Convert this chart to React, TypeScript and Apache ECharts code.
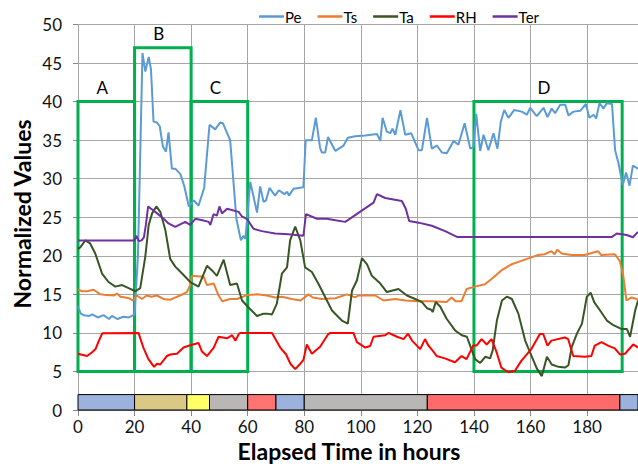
import React, { useEffect, useRef } from "react";
import * as echarts from "echarts";

const peHours = [0,1,2,4,5,7,9,11,12,14,16,18,20,21.2,22.8,23.8,25,25.8,26.7,27.9,28.9,30,31.1,32,33.2,34.4,36.2,37.6,39.2,40.9,42.6,44.6,46.5,48.5,50.3,51.2,53.8,56,57.6,58.5,59.2,60.9,63.3,64.4,65.6,66.5,67.7,69.7,71,73,74,74.6,76.2,79.7,80.5,82.7,84.1,85.6,86.2,87.4,88.4,91,93.9,95.4,98,101.6,105.7,106.9,107.7,109.2,110.4,111.2,112.2,114,115.7,117.8,120.4,121.6,123.4,125.1,126.9,128.7,130.4,132.8,134.5,136.7,138.7,139.8,140.8,142.2,143.4,145.1,146.9,148.3,149.5,150.7,152.2,154.2,156.9,158.7,159.9,162.2,164.6,166,167.5,168.7,170.5,172.3,173.4,175.2,177.6,179.6,180.8,182.3,183.2,184.4,185.8,187,188.8,189.9,191.1,192.6,193.8,195,196.2,198];
const peValues = [13.4,12.5,12.3,12.2,12.4,12.0,12.3,11.8,12.2,11.8,12.1,12.0,12.4,20,46.3,43.9,45.8,44.2,37.4,37.3,36.8,34.2,33.5,36.0,31.3,31.3,30.6,29,26.4,27.2,26.5,28.8,37.0,36.4,37.3,37.2,35.0,24.8,22.0,22.6,22.2,29.6,25.6,29.0,27.0,27.2,28.8,27.8,28.5,28.0,28.3,27.8,28.7,28.9,35.0,35.0,37.9,34.0,33.4,33.4,35.4,33.6,34.3,35.3,35.5,35.6,35.8,34.9,37.9,36.1,35.9,36.5,35.7,38.9,35.7,35.9,33.7,33.7,37.9,33.9,34.3,33.4,33.3,34.9,34.4,37.2,33.9,34.1,38.4,33.6,35.7,33.7,35.9,33.9,37.4,38.9,37.9,38.9,38.7,38.3,39.2,38.1,39.2,38.0,39.1,38.5,39.6,39.6,38.2,38.7,38.8,39.7,37.9,38.3,37.8,39.8,39.1,39.8,39.7,33.7,32.0,29.2,30.8,29.1,31.7,31.3];

const tsHours = [0,1.5,3.2,5.5,7.9,10,12.6,13.8,15,16.7,18,19.5,20.8,22.6,24.3,26,27.9,30.2,32.6,34.5,36.1,38.5,39.7,40.3,43.2,44.4,45.6,48,49.7,51,53.8,56.2,59.7,63.3,66.8,69.7,72.1,75.6,78.7,81.5,83,86.2,91,95.1,98,99.1,102.7,105.1,108,112.2,115.7,120.3,125,130.3,132.1,133.5,135.6,137.4,140.3,143.9,146.2,149.7,153.3,158,162.7,165,167.4,168.5,169.5,171,174.5,179.2,181,183.9,185,189.8,191.6,192.8,193.9,195.7,197.5,198];
const tsValues = [15.6,15.4,15.4,15.6,15.0,14.9,14.85,15.1,14.7,14.6,14.5,14.2,14.85,14.4,14.85,14.7,14.85,14.4,14.3,14.6,14.85,15.3,16.2,17.4,17.3,17.3,16.2,16.4,14.85,14.1,14.4,14.4,14.9,15.0,14.85,14.6,14.7,14.4,14.2,15.0,14.6,14.4,14.5,15.0,14.6,14.85,14.85,14.85,14.2,14.4,14.2,14.1,14.1,14.0,14.6,14.1,14.1,15.7,16.0,16.3,17.0,18.1,18.9,19.5,20.1,20.2,20.6,20.2,20.8,20.3,20.1,20.1,20.3,20.6,20.1,20.2,19.3,17.4,14.2,14.6,14.4,14.3];

const taHours = [0,0.8,2.6,4.3,6.1,8.5,10.8,13.2,15.6,17.9,20.3,22,23.8,25,26.2,27.7,29.1,30.9,32.6,34.4,36.8,39.7,42.6,45.6,47.4,49.1,51.5,53.8,56.2,58,60.3,63.3,65.6,66.8,68.6,70.3,72.1,73.9,75,76.8,78.6,80.3,82.7,85.1,89.8,93.3,95.4,96.9,98.6,100.4,102.2,103.9,106.9,109.2,113.3,116.3,119.2,121.6,123.4,124.9,125.4,126.5,128.1,130.4,133.4,135.7,137.5,139.3,140.4,142.2,144,145.7,146.6,148.1,149.9,151.6,153.4,155.7,158.1,160.5,162.2,164,165.8,167.5,169.9,172.2,173.4,174.6,176.4,178.2,179.9,181.3,182.5,184.6,187,189.3,192.3,194.1,195.2,197,198];
const taValues = [20.9,21.1,22.0,21.6,20.3,17.7,16.6,16.0,16.2,15.8,15.4,15.8,19.9,24.0,25.5,26.4,25.7,23.3,19.6,18.6,17.7,16.6,16.0,18.7,18.1,17.4,19.5,16.2,16.4,14.2,13.3,12.2,12.5,12.5,12.4,13.8,17.7,18.5,22.0,23.8,22.0,18.5,17.9,16.3,12.9,11.6,11.2,15.5,16.8,19.7,18.9,17.4,16.4,15.3,15.7,14.85,14.4,14.0,13.2,13.0,12.7,14.0,13.4,11.8,10.3,9.7,9.5,7.7,6.6,6.1,6.9,6.7,7.7,11.6,14.2,14.7,14.4,12.5,9.0,6.9,5.4,4.4,6.9,5.9,5.6,5.5,5.8,8.2,9.9,11.2,14.7,15.2,14.0,12.9,11.6,11.0,10.5,10.5,9.5,12.9,14.2];

const rhHours = [0,1,3.2,5,6.2,7.4,8.6,21.4,23.1,24.9,26.9,27.9,29.1,31.4,32.6,35,37.3,39.7,42.6,43.8,45.6,48,49.7,52.7,54.5,55.7,56.9,57.5,68.6,71.5,73.6,75.1,76.8,78.6,79.7,80.9,82.7,85.6,88.5,89.2,97.4,98.6,101.6,103.3,104.5,108.6,109.8,112.8,115.1,116.7,118.1,121,122.7,123.8,125.6,126.8,129.7,133.3,135.6,137.4,139.7,140.9,142.7,144.5,146.2,148,149.7,152.1,154.5,156.8,160.3,163.3,164.5,166,167.4,172.1,173.3,175.1,179.2,181.5,182.7,185.1,187.4,189.8,191.6,193.4,196.3,198];
const rhValues = [7.3,7.2,7.0,7.5,7.9,9.0,9.95,10,8.1,6.6,5.6,6.0,5.9,7.0,7.2,7.3,8.1,8.4,8.7,7.6,7.0,8.1,9.5,9.3,9.7,9.0,9.9,10,10,8.1,7.2,6.0,5.3,6.0,6.5,8.5,7.3,8.2,9.85,10,10,8.8,8.1,8.3,9.5,9.7,10,9.5,9.2,9.9,9.0,7.9,9.2,8.4,7.6,7.0,6.7,6.2,7.0,6.6,8.35,8.35,9.2,8.5,9.2,7.5,5.5,4.9,5.1,6.4,7.9,9.85,9.85,8.35,9.0,9.4,9.2,7.0,6.9,7.0,8.35,8.8,8.35,8.0,7.2,7.3,8.5,8.1];

const terHours = [0,20,20.6,21.5,22.5,23.3,24,24.8,27.3,30.3,32,34.4,37.9,39.7,41.5,44,46.2,46.8,47.9,49.1,50,50.9,52.7,56.8,58,59.7,62.1,65,69.7,74.4,79.7,80.6,84.5,88,91,94.5,104.5,105.7,108.6,114.5,115.9,117.1,120.4,125.1,129.8,134,188.8,190.5,194,196.2,198];
const terValues = [22.0,22.0,22.6,21.9,22.0,22.4,24,26.4,25.7,24.8,24.2,23.75,24.4,24.0,24.8,24.6,24.4,24.0,25.4,25.2,26.4,25.5,26.1,25.7,25.1,24.8,23.5,23.2,22.9,22.8,22.6,25.4,24.8,24.8,24.6,24.4,26.9,28.0,27.5,27.1,26.1,24.5,24.3,23.9,23.2,22.45,22.45,22.9,22.7,22.4,23.1];

const seriesNames = ["Pe", "Ts", "Ta", "RH", "Ter"];
const seriesColors = ["#5B9BD5", "#ED7D31", "#375623", "#FF0000", "#7030A0"];

const phaseStarts = [0, 20, 38.5, 46.5, 60, 70, 80, 123.5, 191.6];
const phaseEnds = [20, 38.5, 46.5, 60, 70, 80, 123.5, 191.6, 198];
const phaseColors = ["#9BB2DC", "#DCC885", "#FFFF66", "#B9B7B5", "#FF7373", "#9BB2DC", "#B9B7B5", "#FF6B6B", "#9BB2DC"];
const phaseTop = 2;

const boxLabels = ["A", "B", "C", "D"];
const boxStarts = [0, 20, 40, 140];
const boxEnds = [20, 40, 60, 192.4];
const boxTops = [40, 47, 40, 40];
const boxBottom = 5;

const xTicks = { min: 0, max: 198, interval: 20 };
const yTicks = { min: 0, max: 50, interval: 5 };

function zip(xs: number[], ys: number[]) {
  return xs.map((x, i) => [x, ys[i]]);
}

export default function App() {
  const ref = useRef<HTMLDivElement>(null);
  useEffect(() => {
    if (!ref.current) return;
    const chart = echarts.init(ref.current, undefined, { renderer: "svg" });
    const font = "Lato, 'Open Sans', sans-serif";
    const dataSets = [
      zip(peHours, peValues),
      zip(tsHours, tsValues),
      zip(taHours, taValues),
      zip(rhHours, rhValues),
      zip(terHours, terValues),
    ];
    const lineSeries = seriesNames.map((name, i) => ({
      name,
      type: "line",
      data: dataSets[i],
      symbol: "none",
      showSymbol: false,
      lineStyle: { color: seriesColors[i], width: 2 },
      itemStyle: { color: seriesColors[i] },
      z: 3,
    }));
    const phaseSeries = {
      name: "phases",
      type: "line",
      data: [],
      z: 2,
      silent: true,
      markArea: {
        silent: true,
        data: phaseStarts.map((s, i) => [
          { xAxis: s, yAxis: 0, itemStyle: { color: phaseColors[i], borderColor: "#000", borderWidth: 1 } },
          { xAxis: phaseEnds[i], yAxis: phaseTop },
        ]),
      },
    };
    const boxSeries = {
      name: "boxes",
      type: "line",
      data: [],
      z: 5,
      silent: true,
      markArea: {
        silent: true,
        label: { show: true, position: "top", distance: 4, offset: [-4, 0], color: "#000", fontSize: 17, fontFamily: font },
        itemStyle: { color: "rgba(0,0,0,0)", borderColor: "#00B050", borderWidth: 3 },
        data: boxLabels.map((l, i) => [
          { name: l, xAxis: boxStarts[i], yAxis: boxBottom },
          { xAxis: boxEnds[i], yAxis: boxTops[i] },
        ]),
      },
    };
    chart.setOption({
      animation: false,
      backgroundColor: "#fff",
      grid: { left: 78, right: 0, top: 24.5, bottom: 56 },
      legend: {
        data: seriesNames,
        icon: "rect",
        left: 254,
        top: 4,
        itemWidth: 25,
        itemHeight: 2.5,
        itemGap: 16,
        textStyle: { fontSize: 15, color: "#000", fontFamily: font, padding: [0, 0, 0, -4] },
      },
      xAxis: {
        type: "value",
        min: xTicks.min,
        max: xTicks.max,
        interval: xTicks.interval,
        axisLine: { show: true, lineStyle: { color: "#888", width: 1 } },
        axisTick: { show: true, length: 6, lineStyle: { color: "#888" } },
        axisLabel: { showMaxLabel: false, fontSize: 17, color: "#111", fontFamily: font, margin: 8 },
        splitLine: { show: true, lineStyle: { color: "#A6A6A6", width: 1 } },
      },
      yAxis: {
        type: "value",
        min: yTicks.min,
        max: yTicks.max,
        interval: yTicks.interval,
        axisLine: { show: true, lineStyle: { color: "#A6A6A6", width: 1 } },
        axisTick: { show: true, length: 5, lineStyle: { color: "#888" } },
        axisLabel: { fontSize: 17, color: "#111", fontFamily: font, margin: 16 },
        splitLine: { show: true, lineStyle: { color: "#A6A6A6", width: 1 } },
      },
      graphic: [
        {
          type: "text",
          x: 22,
          y: 214,
          rotation: Math.PI / 2,
          style: {
            text: "Normalized Values",
            fontSize: 23,
            fontWeight: "bold",
            fontFamily: font,
            fill: "#000",
            align: "center",
            verticalAlign: "middle",
          },
        },
        {
          type: "text",
          x: 349,
          y: 451,
          style: {
            text: "Elapsed Time in hours",
            fontSize: 23,
            fontWeight: "bold",
            fontFamily: font,
            fill: "#000",
            align: "center",
            verticalAlign: "middle",
          },
        },
      ],
      series: [phaseSeries, ...lineSeries, boxSeries],
    });
    return () => chart.dispose();
  }, []);
  return (
    <div
      ref={ref}
      style={{ position: "fixed", left: 0, top: 0, width: 638, height: 466, background: "#fff" }}
    />
  );
}
